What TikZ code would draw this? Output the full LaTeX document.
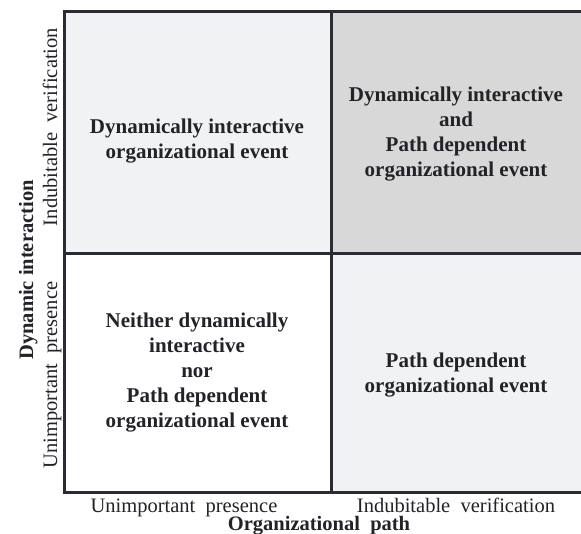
\documentclass[tikz,border=0pt]{standalone}
\usepackage{fontspec}
\setmainfont{Liberation Serif}
\begin{document}
\begin{tikzpicture}[x=1pt,y=-1pt,
  frame/.style={draw=gridline,line width=3pt},
  celltext/.style={align=center,text=ink,font=\fontsize{21}{25}\selectfont\bfseries},
  axistick/.style={text=ink,font=\fontsize{20.5}{24.5}\selectfont,inner sep=0pt},
  axistitle/.style={text=ink,font=\fontsize{20.5}{24.5}\selectfont\bfseries,inner sep=0pt}]
\definecolor{gridline}{HTML}{2B2B35}
\definecolor{ink}{HTML}{222228}
\definecolor{palecell}{HTML}{F1F2F4}
\definecolor{greycell}{HTML}{D8D8D8}
\useasboundingbox (0,0) rectangle (581,534);

% quadrant fills
\fill[palecell] (64,12) rectangle (331,254);
\fill[greycell] (331,12) rectangle (581,254);
\fill[white] (64,254) rectangle (331,492);
\fill[palecell] (331,254) rectangle (581,492);

% quadrant frame
\draw[frame] (582,12) -- (64,12) -- (64,492) -- (582,492);
\draw[frame] (331,12) -- (331,492);
\draw[frame] (64,254) -- (582,254);

% quadrant contents
\node[celltext] (tl) at (197,141) {Dynamically interactive\\organizational event};
\node[celltext] (tr) at (456,134) {Dynamically interactive\\and\\Path dependent\\organizational event};
\node[celltext] (bl) at (197,373) {Neither dynamically\\interactive\\nor\\Path dependent\\organizational event};
\node[celltext] (br) at (456,375) {Path dependent\\organizational event};

% horizontal axis
\node[axistick,anchor=base] (xlow) at (184,512) {Unimportant\ \ presence};
\node[axistick,anchor=base] (xhigh) at (456,512) {Indubitable\ \ verification};
\node[axistitle,anchor=base] (xtitle) at (319,530) {Organizational\ \ path};

% vertical axis
\node[axistick,rotate=90,anchor=base] (yhigh) at (57,127) {Indubitable\ \ verification};
\node[axistick,rotate=90,anchor=base] (ylow) at (57,375) {Unimportant\ \ presence};
\node[axistitle,rotate=90,anchor=base] (ytitle) at (33,270) {Dynamic\ interaction};
\end{tikzpicture}
\end{document}
